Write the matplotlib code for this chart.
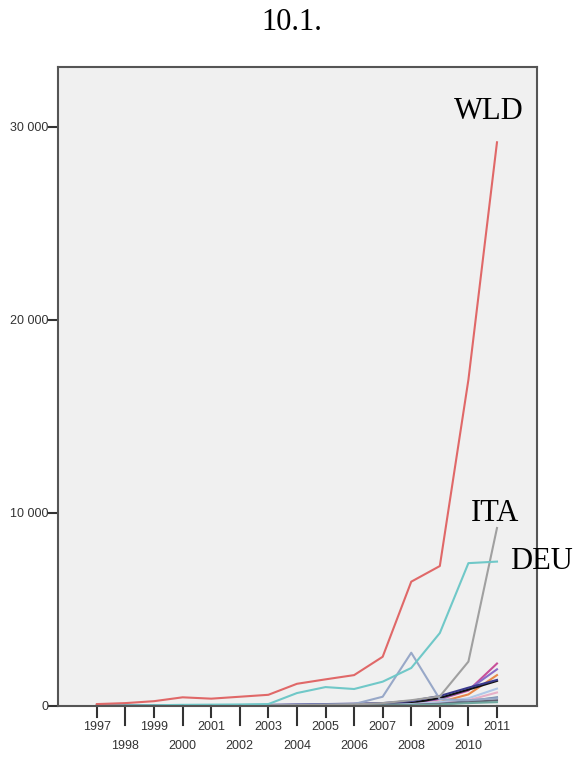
import matplotlib
matplotlib.use("Agg")
import matplotlib.pyplot as plt
import matplotlib.transforms as mtransforms
from matplotlib.ticker import FuncFormatter

years = list(range(1997, 2012))

wld = [100, 150, 250, 450, 380, 480, 580, 1150, 1380, 1600, 2550, 6440, 7250, 16900, 29200]
deu = [20, 30, 40, 60, 70, 80, 100, 670, 980, 880, 1260, 1970, 3780, 7400, 7480]
ita = [10, 10, 15, 20, 20, 25, 30, 40, 60, 80, 150, 300, 500, 2300, 9220]
other_peak = [10, 10, 15, 20, 25, 30, 40, 60, 80, 100, 480, 2760, 350, 300, 400]

minor_series = {
    "magenta": [5, 5, 10, 10, 15, 20, 25, 30, 40, 60, 90, 160, 350, 800, 2200],
    "purple": [5, 5, 10, 15, 20, 25, 30, 40, 50, 70, 100, 180, 380, 850, 1900],
    "orange": [0, 0, 5, 5, 5, 10, 10, 15, 20, 30, 40, 60, 200, 600, 1600],
    "black": [10, 10, 15, 20, 20, 25, 30, 40, 50, 60, 80, 150, 420, 850, 1300],
    "navy": [20, 25, 30, 40, 40, 50, 60, 80, 100, 120, 150, 260, 520, 950, 1350],
    "lightblue": [0, 0, 5, 5, 10, 10, 15, 20, 30, 40, 60, 100, 200, 400, 900],
    "pink": [0, 0, 0, 5, 5, 5, 10, 10, 15, 20, 30, 50, 120, 300, 700],
    "slate": [0, 0, 5, 5, 5, 10, 10, 15, 20, 25, 35, 60, 120, 250, 450],
    "darkgray": [0, 0, 0, 5, 5, 5, 10, 10, 15, 20, 30, 50, 100, 200, 300],
    "teal2": [0, 0, 0, 0, 5, 5, 5, 10, 10, 15, 20, 40, 80, 150, 200],
}
minor_colors = {
    "magenta": "#c8509a",
    "purple": "#8a6cc8",
    "orange": "#e8884a",
    "black": "#111111",
    "navy": "#3a3a8c",
    "lightblue": "#b0c8e8",
    "pink": "#e6b0c8",
    "slate": "#7088a8",
    "darkgray": "#606070",
    "teal2": "#70a8a0",
}

fig = plt.figure(figsize=(5.74, 7.61), dpi=100)
ax = fig.add_axes([58/574, 1-706/761, (537-58)/574, (706-67)/761])
ax.set_facecolor("#f0f0f0")

for name, vals in minor_series.items():
    ax.plot(years, vals, color=minor_colors[name], lw=1.5)
ax.plot(years, other_peak, color="#98a8c8", lw=1.5)
ax.plot(years, ita, color="#a0a0a0", lw=1.5)
ax.plot(years, deu, color="#70c8c8", lw=1.5)
ax.plot(years, wld, color="#e06868", lw=1.5)

ax.set_xlim(1995.64, 2012.4)
ax.set_ylim(0, 33100)

ax.set_yticks([0, 10000, 20000, 30000])
ax.yaxis.set_major_formatter(FuncFormatter(lambda v, p: f"{int(v):,}".replace(",", " ")))
ax.tick_params(axis="y", length=7, width=1.5, color="#333333", labelsize=9,
               labelcolor="#333333", pad=0)
for lab in ax.get_yticklabels():
    lab.set_family("Liberation Sans")

ax.set_xticks([])
px = 33100 / 639.0
trans = mtransforms.blended_transform_factory(ax.transData, fig.transFigure)
for y in years:
    ln = 11 if y % 2 == 1 else 19
    ax.plot([y, y], [0, -ln * px], color="#333333", lw=1.5, clip_on=False)
    ty = 727 if y % 2 == 1 else 746
    ax.text(y, 1 - ty/761, str(y), transform=trans, ha="center", va="center",
            fontsize=9, family="Liberation Sans", color="#333333")

for s in ax.spines.values():
    s.set_color("#555555")
    s.set_linewidth(1.5)

ax.text(2010.72, 30780, "WLD", fontsize=22, family="Liberation Serif", ha="center", va="center")
ax.text(2010.93, 9950, "ITA", fontsize=22, family="Liberation Serif", ha="center", va="center")
ax.text(2011.45, 7460, "DEU", fontsize=22, family="Liberation Serif", ha="left", va="center", clip_on=False)

fig.text(292/574, 1-22/761, "10.1.", fontsize=22, family="Liberation Serif", ha="center", va="center")

fig.savefig("out.png", dpi=100)
